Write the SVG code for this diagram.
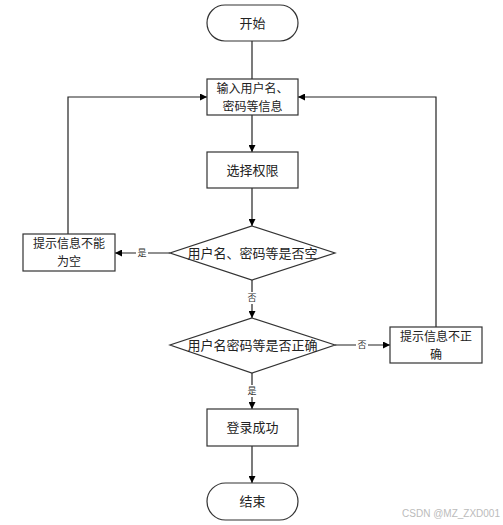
<svg xmlns="http://www.w3.org/2000/svg" width="503" height="525" viewBox="0 0 503 525">
<style>
.n{fill:#fff;stroke:#333;stroke-width:1.2}
.t{font-family:"Noto Sans CJK SC","Liberation Sans",sans-serif;font-size:13px;fill:#222;text-anchor:middle}
.t2{font-family:"Noto Sans CJK SC","Liberation Sans",sans-serif;font-size:12px;fill:#222;text-anchor:middle}
.l{font-family:"Noto Sans CJK SC","Liberation Sans",sans-serif;font-size:9px;fill:#333;text-anchor:middle}
.c{fill:none;stroke:#222;stroke-width:1.2}
.w{font-family:"Liberation Sans",sans-serif;font-size:10px;fill:#bbb;text-anchor:end}
</style>
<defs>
<marker id="a" viewBox="0 0 10 10" refX="10" refY="5" markerWidth="7" markerHeight="7" markerUnits="userSpaceOnUse" orient="auto"><path d="M0,0 L10,5 L0,10 z" fill="#000"/></marker>
</defs>
<rect width="503" height="525" fill="#fff"/>
<g id="connectors">
<path class="c" d="M252,41 V79"/>
<path class="c" d="M252,115 V152" marker-end="url(#a)"/>
<path class="c" d="M252,188 V226" marker-end="url(#a)"/>
<path class="c" d="M170,253 H115" marker-end="url(#a)"/>
<path class="c" d="M68,234 V97 H207" marker-end="url(#a)"/>
<path class="c" d="M252,280 V318" marker-end="url(#a)"/>
<path class="c" d="M335,345 H390" marker-end="url(#a)"/>
<path class="c" d="M436,327 V97 H298" marker-end="url(#a)"/>
<path class="c" d="M252,373 V409" marker-end="url(#a)"/>
<path class="c" d="M252,446 V483" marker-end="url(#a)"/>
<rect x="136" y="247" width="12" height="12" fill="#fff"/>
<text class="l" x="142" y="256">是</text>
<rect x="246" y="292" width="12" height="12" fill="#fff"/>
<text class="l" x="252" y="301">否</text>
<rect x="356" y="339" width="12" height="12" fill="#fff"/>
<text class="l" x="362" y="348">否</text>
<rect x="246" y="385" width="12" height="12" fill="#fff"/>
<text class="l" x="252" y="394">是</text>
</g>
<g id="start"><rect class="n" x="207" y="5" width="91" height="36" rx="18"/><text class="t" x="252.5" y="27.5">开始</text></g>
<g id="input"><rect class="n" x="207" y="79" width="91" height="36"/><text class="t2" x="252.5" y="93">输入用户名、</text><text class="t2" x="252.5" y="110.5">密码等信息</text></g>
<g id="perm"><rect class="n" x="207" y="152" width="91" height="36"/><text class="t" x="252.5" y="174.5">选择权限</text></g>
<g id="empty"><polygon class="n" points="252,226 335,253 252,280 170,253"/><text class="t" x="252.5" y="257.5">用户名、密码等是否空</text></g>
<g id="emptymsg"><rect class="n" x="23" y="234" width="92" height="37"/><text class="t2" x="69" y="248">提示信息不能</text><text class="t2" x="69" y="265.5">为空</text></g>
<g id="correct"><polygon class="n" points="252,318 335,345 252,373 170,345"/><text class="t" x="252.5" y="349.5">用户名密码等是否正确</text></g>
<g id="wrongmsg"><rect class="n" x="390" y="327" width="92" height="36"/><text class="t2" x="436" y="341">提示信息不正</text><text class="t2" x="436" y="358.5">确</text></g>
<g id="ok"><rect class="n" x="207" y="409" width="91" height="37"/><text class="t" x="252.5" y="432">登录成功</text></g>
<g id="end"><rect class="n" x="207" y="483" width="91" height="37" rx="18.5"/><text class="t" x="252.5" y="506">结束</text></g>
<text class="w" x="500" y="517">CSDN @MZ_ZXD001</text>
</svg>
